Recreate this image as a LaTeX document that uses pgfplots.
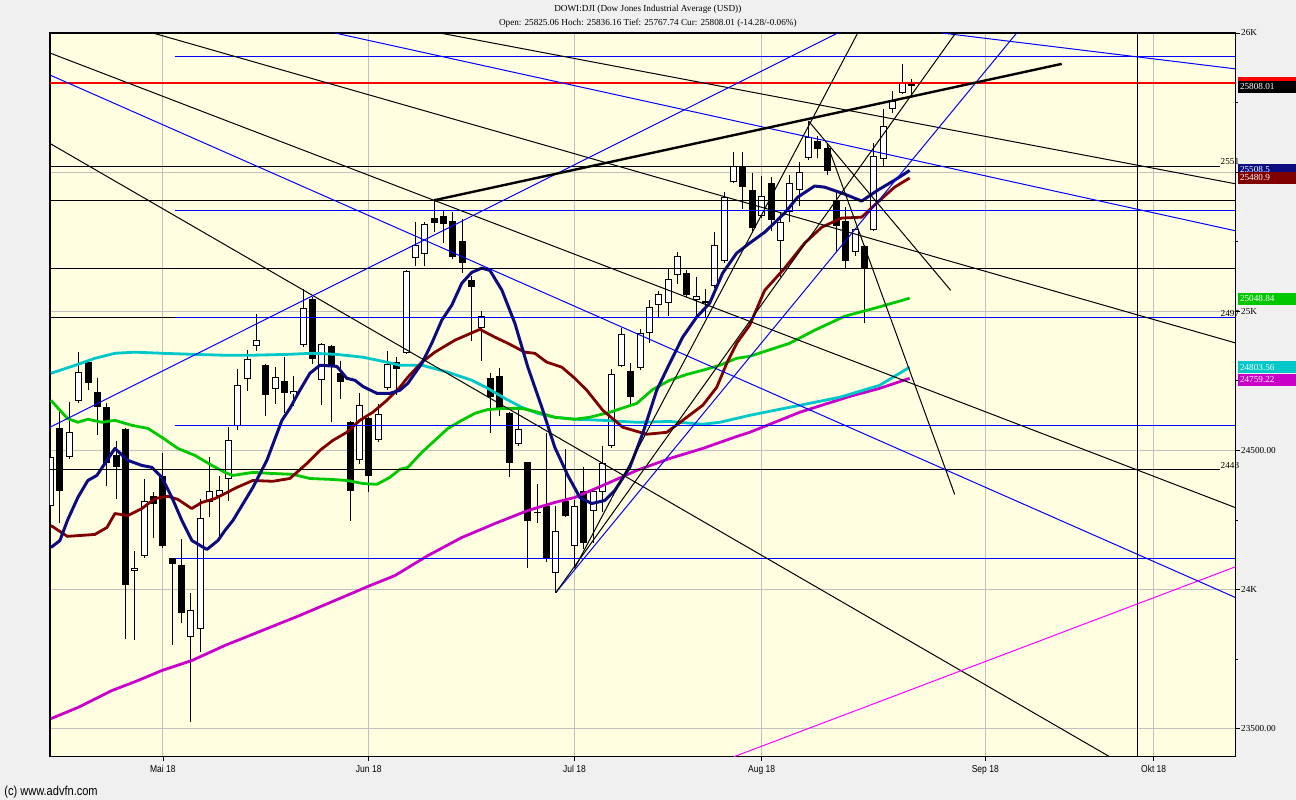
\documentclass[border=0pt]{standalone}
\usepackage{fontspec}
\setmainfont{Liberation Serif}
\newfontfamily\narrowsans[FakeStretch=0.85]{Liberation Sans}
\usepackage{pgfplots}
\usepackage{pgfplotstable}
\pgfplotsset{compat=1.18}

\definecolor{figbg}{RGB}{240,240,240}
\definecolor{plotbg}{RGB}{255,254,224}
\definecolor{gridc}{RGB}{192,192,192}
\definecolor{navyma}{RGB}{12,12,128}
\definecolor{redma}{RGB}{128,0,0}
\definecolor{greenma}{RGB}{0,200,0}
\definecolor{cyanma}{RGB}{0,200,200}
\definecolor{magma}{RGB}{200,0,200}
\definecolor{drawblue}{RGB}{0,0,255}
\definecolor{drawmag}{RGB}{255,0,255}
\definecolor{hred}{RGB}{255,0,0}
\newcommand\lab{\fontsize{4.6}{5}\selectfont}

% daily candles, i = trading day from 13 Apr 2018
\pgfplotstableread{
i o h l c
0 24299 24500 24277 24475
1 24579 24637 24238 24353
2 24478 24673 24470 24568
3 24676 24853 24670 24781
4 24817 24827 24716 24741
5 24709 24759 24554 24655
6 24655 24669 24371 24453
7 24482 24532 24324 24439
8 24576 24580 23824 24018
9 24065 24137 23817 24079
10 24122 24396 24115 24317
11 24338 24349 24187 24306
12 24407 24489 24150 24155
13 24112 24115 23802 24090
14 24090 24180 23878 23914
15 23831 23986 23525 23925
16 23860 24327 23774 24256
17 24313 24475 24259 24353
18 24335 24407 24194 24356
19 24396 24583 24317 24536
20 24586 24791 24572 24734
21 24755 24860 24712 24827
22 24874 24989 24856 24896
23 24806 24810 24622 24698
24 24720 24799 24666 24763
25 24748 24835 24633 24705
26 24702 24766 24658 24712
27 24878 25079 24870 25011
28 25043 25050 24809 24827
29 24752 24885 24662 24881
30 24874 24880 24601 24802
31 24777 24820 24684 24745
32 24601 24605 24245 24353
33 24464 24705 24450 24662
34 24615 24620 24349 24407
35 24536 24666 24530 24630
36 24723 24856 24718 24809
37 24817 24835 24698 24791
38 24849 25150 24845 25144
39 25191 25320 25162 25237
40 25205 25320 25162 25313
41 25335 25399 25284 25317
42 25342 25360 25245 25313
43 25324 25356 25187 25194
44 25252 25331 25137 25173
45 25112 25126 24892 25086
46 24939 25000 24820 24982
47 24759 24777 24561 24691
48 24766 24795 24622 24651
49 24633 24637 24403 24453
50 24522 24655 24515 24576
51 24457 24460 24079 24248
52 24279 24378 24238 24275
53 24299 24561 24100 24108
54 24058 24302 23989 24212
55 24317 24504 24259 24266
56 24155 24320 24076 24302
57 24353 24439 24144 24169
58 24281 24363 24166 24353
59 24349 24515 24277 24453
60 24515 24791 24510 24773
61 24802 24939 24798 24917
62 24784 24813 24658 24691
63 24795 24935 24790 24921
64 24921 25040 24885 25014
65 25022 25072 24975 25061
66 25029 25151 24982 25115
67 25130 25212 25097 25198
68 25137 25148 25050 25058
69 25040 25122 24978 25054
70 25029 25079 24978 25036
71 25090 25284 25085 25237
72 25180 25428 25175 25410
73 25464 25572 25460 25522
74 25522 25572 25366 25446
75 25435 25496 25281 25299
76 25342 25486 25337 25414
77 25460 25482 25288 25327
78 25252 25352 25122 25320
79 25356 25489 25320 25460
80 25435 25536 25378 25500
81 25550 25684 25545 25626
82 25612 25630 25550 25583
83 25586 25601 25489 25504
84 25399 25428 25218 25306
85 25324 25374 25151 25180
86 25212 25299 25198 25295
87 25234 25238 24957 25155
88 25291 25604 25287 25558
89 25547 25727 25518 25666
90 25727 25791 25712 25755
91 25784 25889 25780 25820
92 25825 25836 25768 25808
}\candles

\begin{document}
\begin{tikzpicture}
\fill[figbg] (0,0) rectangle (648pt,400pt);
\node[font=\lab, inner sep=0pt] at (324pt,395.3pt) {DOWI:DJI (Dow Jones Industrial Average (USD))};
\node[font=\lab, inner sep=0pt] at (324pt,388.3pt) {Open: 25825.06 Hoch: 25836.16 Tief: 25767.74 Cur: 25808.01 (-14.28/-0.06\%)};
\node[font=\fontsize{6.5}{7}\selectfont\narrowsans, anchor=west, inner sep=0pt] at (2pt,4pt) {(c) www.advfn.com};

\begin{axis}[
  at={(25pt,21.5pt)}, anchor=south west,
  width=593pt, height=362pt, scale only axis,
  xmin=-0.07, xmax=126.66, ymin=23399, ymax=26000,
  clip mode=individual,
  scaled y ticks=false,
  axis background/.style={fill=plotbg},
  axis line style={black, line width=0.6pt},
  xtick={12,34,56,76,99.9,117.9},
  xticklabels={Mai 18,Jun 18,Jul 18,Aug 18,Sep 18,Okt 18},
  ytick={23500,24000,24500,25000,25500,26000},
  yticklabels={23500.00,24K,24500.00,25K,{},26K},
  minor ytick={23750,24250,24750,25250,25750},
  xtick pos=lower, ytick pos=upper, yticklabel pos=upper,
  tick align=outside,
  major tick length=2pt, minor tick length=1pt,
  every tick/.style={black, line width=0.4pt},
  grid=major, major grid style={gridc, line width=0.5pt},
  xticklabel style={font=\fontsize{5}{6}\selectfont\narrowsans, inner sep=0pt, yshift=-2pt},
  yticklabel style={font=\lab, inner sep=0.6pt, anchor=west},
]
% wicks
\addplot[draw=none, mark=none, error bars/.cd, y dir=both, y explicit, error mark=none,
  error bar style={draw=black, line width=0.5pt}]
  table[x=i, y expr={(\thisrow{h}+\thisrow{l})/2}, y error expr={(\thisrow{h}-\thisrow{l})/2}] {\candles};
% bodies
\addplot[draw=none, mark=none, error bars/.cd, y dir=both, y explicit, error mark=none,
  error bar style={draw=black, line width=3.5pt}]
  table[x=i, y expr={(\thisrow{o}+\thisrow{c})/2}, y error expr={max(abs(\thisrow{o}-\thisrow{c})/2,1.8)}] {\candles};
\addplot[draw=none, mark=none, restrict expr to domain={\thisrow{c}-\thisrow{o}}{7.5:100000},
  error bars/.cd, y dir=both, y explicit, error mark=none,
  error bar style={draw=white, line width=2.5pt}]
  table[x=i, y expr={(\thisrow{o}+\thisrow{c})/2}, y error expr={(\thisrow{c}-\thisrow{o})/2-3.6}] {\candles};

% moving averages
\addplot[magma, line width=1.4pt, line join=round] coordinates {(0.03,23536)(2.91,23576)(6.55,23637)(9.33,23673)(11.89,23709)(15.10,23745)(18.63,23799)(26.64,23907)(34.12,24014)(36.79,24050)(40.32,24122)(43.95,24187)(47.48,24237)(51.01,24284)(53.89,24313)(56.03,24331)(59.02,24374)(62.65,24428)(66.17,24471)(69.70,24507)(73.33,24550)(74.72,24565)(80.07,24637)(85.41,24694)(88.62,24723)(91.82,24759)};
\addplot[cyanma, line width=1.4pt, line join=round] coordinates {(0.03,24777)(2.91,24809)(4.73,24831)(6.87,24849)(9.01,24853)(11.89,24849)(15.42,24845)(18.63,24842)(21.62,24842)(25.25,24845)(28.03,24849)(30.59,24845)(33.37,24835)(35.94,24817)(37.33,24806)(39.68,24806)(42.46,24781)(45.02,24752)(46.73,24723)(48.55,24687)(50.36,24655)(52.07,24633)(53.89,24619)(56.03,24612)(59.02,24608)(62.65,24601)(66.17,24604)(69.70,24594)(71.52,24601)(74.72,24626)(80.07,24662)(84.35,24691)(88.62,24734)(91.82,24799)};
\addplot[greenma, line width=1.4pt, line join=round] coordinates {(0.03,24680)(1.79,24615)(2.91,24601)(3.98,24612)(5.48,24601)(6.87,24608)(8.69,24590)(10.40,24579)(11.89,24547)(13.60,24507)(15.42,24482)(17.24,24446)(18.63,24421)(19.48,24410)(21.62,24421)(23.75,24417)(25.89,24414)(27.71,24399)(29.85,24396)(31.66,24392)(33.37,24381)(34.87,24378)(36.26,24403)(37.33,24432)(38.18,24439)(39.68,24493)(41.07,24536)(42.46,24579)(43.95,24608)(45.34,24633)(46.73,24647)(48.55,24651)(50.36,24651)(52.07,24637)(53.89,24619)(56.03,24612)(57.63,24619)(59.76,24637)(62.65,24669)(64.36,24719)(66.17,24752)(67.99,24773)(69.70,24788)(71.52,24806)(73.33,24831)(74.72,24838)(78.99,24885)(81.67,24932)(84.87,24982)(88.40,25014)(91.82,25047)};
\addplot[redma, line width=1.4pt, line join=round] coordinates {(0.03,24230)(1.79,24191)(4.73,24198)(6.02,24223)(6.87,24273)(8.26,24266)(9.75,24291)(11.15,24327)(12.53,24335)(13.60,24324)(15.07,24291)(16.17,24313)(17.56,24327)(18.63,24345)(19.91,24367)(21.62,24392)(23.75,24389)(25.57,24399)(27.39,24453)(28.78,24500)(30.17,24536)(31.66,24565)(33.05,24608)(34.44,24637)(35.94,24680)(37.33,24727)(38.18,24763)(39.68,24817)(41.07,24853)(43.21,24896)(45.88,24935)(47.48,24907)(48.87,24885)(50.68,24853)(51.75,24849)(53.03,24817)(54.64,24799)(56.03,24759)(57.31,24716)(59.02,24644)(61.16,24583)(63.72,24558)(65.86,24565)(67.56,24608)(69.70,24662)(71.20,24727)(72.27,24813)(73.33,24885)(74.72,24950)(76.32,25075)(78.46,25155)(80.60,25245)(82.42,25302)(84.55,25335)(86.69,25338)(88.40,25392)(90.21,25446)(91.82,25479)};
\addplot[navyma, line width=1.5pt, line join=round] coordinates {(0.03,24151)(0.99,24176)(1.79,24248)(2.91,24331)(3.98,24392)(4.94,24410)(5.80,24453)(6.87,24507)(8.26,24464)(9.75,24446)(10.82,24439)(11.89,24403)(12.96,24331)(14.03,24248)(15.10,24176)(16.70,24144)(17.88,24176)(18.63,24212)(19.48,24248)(21.62,24367)(23.11,24464)(24.72,24608)(25.57,24651)(26.64,24716)(27.71,24777)(28.78,24806)(30.59,24802)(31.66,24759)(32.52,24752)(33.37,24730)(34.87,24705)(36.26,24705)(37.33,24716)(38.18,24741)(39.68,24813)(40.74,24885)(41.81,24968)(42.88,25022)(43.95,25101)(45.02,25140)(46.09,25155)(46.95,25147)(48.23,25076)(49.62,24957)(51.01,24799)(52.50,24655)(53.89,24511)(55.28,24410)(56.57,24331)(57.84,24309)(59.23,24320)(60.30,24356)(61.90,24439)(63.29,24561)(64.78,24716)(66.17,24813)(67.56,24907)(69.05,24979)(70.44,25029)(71.83,25137)(73.33,25209)(74.72,25245)(76.32,25284)(78.46,25353)(79.85,25410)(81.66,25450)(82.73,25446)(84.87,25421)(86.69,25396)(88.40,25435)(90.21,25471)(91.82,25506)};

% horizontal drawings
\addplot[drawblue, line width=0.5pt] coordinates {(13.28,25914) (127,25914)};
\addplot[black, line width=0.5pt] coordinates {(-1,25522) (124.96,25522)};
\addplot[black, line width=0.5pt] coordinates {(-1,25397) (127,25397)};
\addplot[drawblue, line width=0.5pt] coordinates {(13.28,25361) (127,25361)};
\addplot[black, line width=0.5pt] coordinates {(-1,25152) (127,25152)};
\addplot[black, line width=0.5pt] coordinates {(-1,24976) (13.28,24976)};
\addplot[drawblue, line width=0.5pt] coordinates {(13.28,24976) (127,24976)};
\addplot[drawblue, line width=0.5pt] coordinates {(13.28,24588) (127,24588)};
\addplot[black, line width=0.5pt] coordinates {(-1,24430) (124.96,24430)};
\addplot[drawblue, line width=0.5pt] coordinates {(13.28,24111) (127,24111)};
\addplot[hred, line width=1.2pt] coordinates {(-1,25820) (127,25820)};
\addplot[black, line width=0.6pt] coordinates {(116.19,23399) (116.19,26000)};

% trend lines
\addplot[black, line width=0.5pt] coordinates {(10.93,26000) (126.66,24886)};
\addplot[black, line width=0.5pt] coordinates {(41.60,26000) (126.66,25458)};
\addplot[black, line width=0.5pt] coordinates {(-0.07,25928) (126.66,24294)};
\addplot[black, line width=0.5pt] coordinates {(-0.07,25603) (113.2,23399)};
\addplot[drawblue, line width=0.5pt] coordinates {(-0.07,25849) (126.66,23971)};
\addplot[drawblue, line width=0.5pt] coordinates {(30.38,26000) (126.66,25289)};
\addplot[drawblue, line width=0.5pt] coordinates {(54,23989) (103.26,26000)};
\addplot[drawblue, line width=0.5pt] coordinates {(95.24,26000) (126.66,25871)};
\addplot[drawblue, line width=0.5pt] coordinates {(-0.07,24583) (84.13,26000)};
\addplot[black, line width=1.2pt] coordinates {(41,25399) (108.07,25889)};
\addplot[black, line width=0.5pt] coordinates {(56,24076) (86.27,26000)};
\addplot[black, line width=0.5pt] coordinates {(54,23989) (96.74,26000)};
\addplot[black, line width=0.5pt] coordinates {(81,25684) (96.21,25075)};
\addplot[black, line width=0.5pt] coordinates {(83,25601) (96.63,24342)};
\addplot[drawmag, line width=0.5pt] coordinates {(73.02,23399) (126.66,24082)};

% line labels
\node[anchor=south west, inner sep=0.3pt, font=\lab] at (axis cs:124.96,25522) {2551};
\node[anchor=south west, inner sep=0.3pt, font=\lab] at (axis cs:124.96,24976) {2497};
\node[anchor=south west, inner sep=0.3pt, font=\lab] at (axis cs:124.96,24430) {2443};

% value boxes on the right
\tikzset{vbox/.style={anchor=west, xshift=1pt, text=white, font=\lab, inner sep=0pt,
  minimum width=29pt, minimum height=6pt, text width=27pt, align=left}}
\node[vbox, fill=hred] at (axis cs:126.66,25822) {};
\node[vbox, fill=black] at (axis cs:126.66,25806) {25808.01};
\node[vbox, fill=navyma] at (axis cs:126.66,25508) {25508.5};
\node[vbox, fill=redma] at (axis cs:126.66,25479) {25480.9};
\node[vbox, fill=greenma] at (axis cs:126.66,25045) {25048.84};
\node[vbox, fill=cyanma] at (axis cs:126.66,24798) {24803.56};
\node[vbox, fill=magma] at (axis cs:126.66,24754) {24759.22};
\end{axis}
\end{tikzpicture}
\end{document}
